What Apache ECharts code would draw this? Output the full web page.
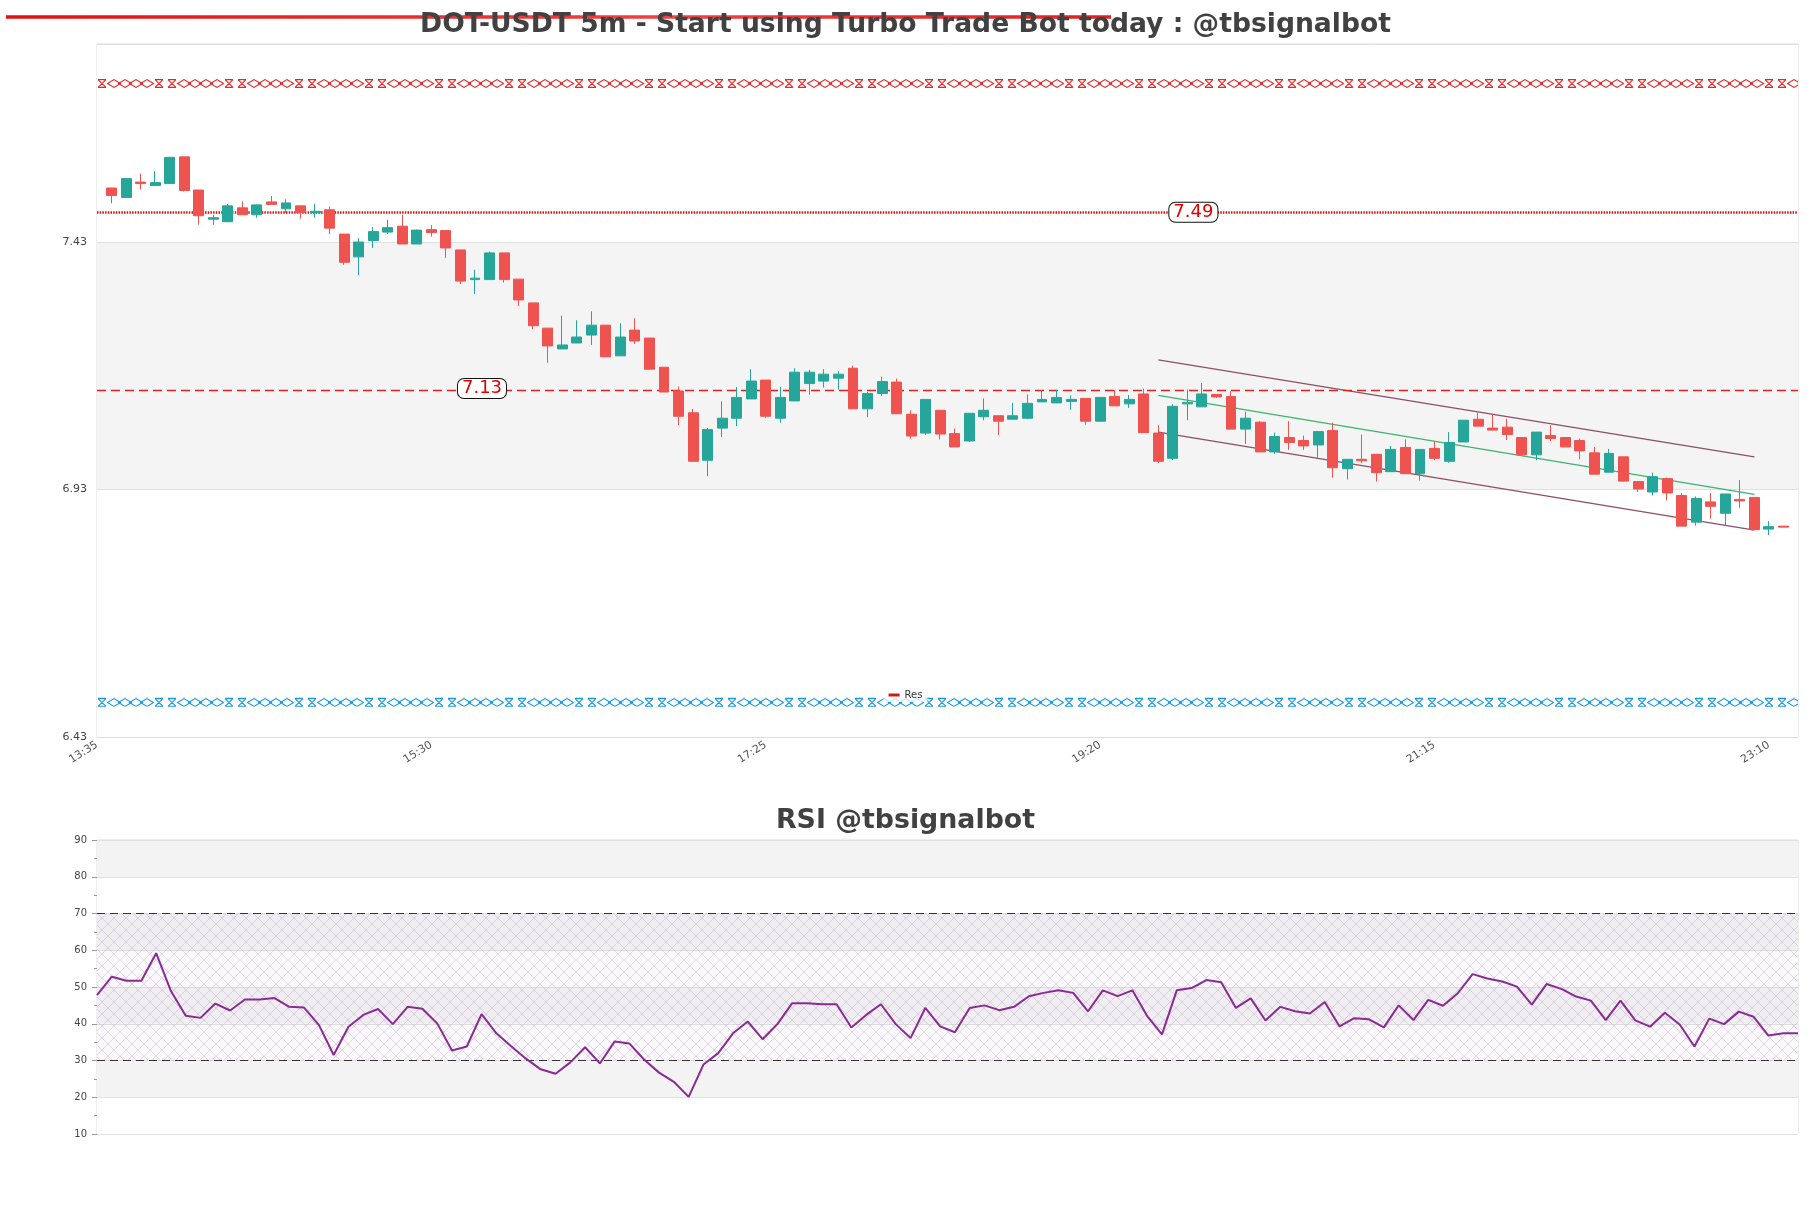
<!DOCTYPE html>
<html><head><meta charset="utf-8">
<script src="https://cdn.jsdelivr.net/npm/echarts@6/dist/echarts.min.js"></script>
<style>html,body{margin:0;padding:0;background:#fff}#c{width:1811px;height:1208px}</style>
</head><body><div id="c"></div>
<script>
// ---- categories (5m candles) ----
const timeLabels = [
 '13:35','13:40','13:45','13:50','13:55',
 '14:00','14:05','14:10','14:15','14:20','14:25','14:30','14:35','14:40','14:45','14:50','14:55',
 '15:00','15:05','15:10','15:15','15:20','15:25','15:30','15:35','15:40','15:45','15:50','15:55',
 '16:00','16:05','16:10','16:15','16:20','16:25','16:30','16:35','16:40','16:45','16:50','16:55',
 '17:00','17:05','17:10','17:15','17:20','17:25','17:30','17:35','17:40','17:45','17:50','17:55',
 '18:00','18:05','18:10','18:15','18:20','18:25','18:30','18:35','18:40','18:45','18:50','18:55',
 '19:00','19:05','19:10','19:15','19:20','19:25','19:30','19:35','19:40','19:45','19:50','19:55',
 '20:00','20:05','20:10','20:15','20:20','20:25','20:30','20:35','20:40','20:45','20:50','20:55',
 '21:00','21:05','21:10','21:15','21:20','21:25','21:30','21:35','21:40','21:45','21:50','21:55',
 '22:00','22:05','22:10','22:15','22:20','22:25','22:30','22:35','22:40','22:45','22:50','22:55',
 '23:00','23:05','23:10','23:15','23:20'
];
// candles occupy categories 13:40 .. 23:15
const openVals = [7.539,7.520,7.551,7.544,7.548,7.602,7.535,7.476,7.471,7.499,7.485,7.511,7.497,7.503,7.489,7.495,7.446,7.400,7.433,7.450,
 7.462,7.426,7.455,7.453,7.414,7.354,7.354,7.408,7.355,7.307,7.256,7.214,7.226,7.242,7.262,7.200,7.252,7.236,7.177,7.129,
 7.085,6.989,7.054,7.074,7.113,7.151,7.074,7.109,7.144,7.149,7.155,7.175,7.093,7.124,7.147,7.082,7.044,7.090,7.043,7.028,
 7.077,7.079,7.072,7.074,7.107,7.105,7.108,7.114,7.068,7.118,7.103,7.123,7.044,6.993,7.103,7.097,7.122,7.118,7.052,7.066,
 7.006,7.035,7.029,7.020,7.049,6.972,6.991,7.001,6.966,7.015,6.962,7.013,6.987,7.026,7.072,7.054,7.056,7.035,7.000,7.039,
 7.035,7.029,7.004,6.965,6.996,6.946,6.925,6.952,6.918,6.864,6.905,6.882,6.910,6.914,6.850,6.856];
const closeVals = [7.524,7.558,7.548,7.550,7.601,7.534,7.483,7.479,7.503,7.485,7.505,7.506,7.509,7.490,7.492,7.458,7.389,7.430,7.451,7.459,
 7.426,7.454,7.449,7.418,7.351,7.357,7.408,7.354,7.313,7.261,7.220,7.222,7.238,7.262,7.198,7.238,7.230,7.173,7.127,7.078,
 6.987,7.051,7.074,7.116,7.149,7.078,7.116,7.167,7.167,7.163,7.163,7.093,7.124,7.148,7.083,7.038,7.112,7.042,7.016,7.084,
 7.090,7.068,7.079,7.104,7.112,7.116,7.112,7.068,7.116,7.099,7.112,7.045,6.987,7.098,7.106,7.123,7.117,7.052,7.074,7.006,
 7.037,7.025,7.018,7.047,6.974,6.991,6.988,6.964,7.011,6.962,7.011,6.993,7.025,7.070,7.058,7.050,7.041,7.000,7.046,7.033,
 7.016,7.008,6.961,7.003,6.947,6.931,6.956,6.923,6.856,6.912,6.896,6.921,6.907,6.849,6.855,6.854];
const lowVals = [7.508,7.519,7.536,7.544,7.547,7.532,7.465,7.465,7.470,7.485,7.479,7.506,7.489,7.477,7.479,7.446,7.384,7.363,7.418,7.446,
 7.426,7.426,7.441,7.398,7.345,7.325,7.354,7.348,7.301,7.254,7.186,7.214,7.226,7.222,7.198,7.200,7.224,7.173,7.127,7.060,
 6.987,6.957,7.036,7.058,7.113,7.075,7.065,7.109,7.121,7.136,7.132,7.093,7.076,7.119,7.083,7.033,7.040,7.031,7.016,7.026,
 7.070,7.040,7.072,7.072,7.107,7.105,7.091,7.061,7.067,7.099,7.095,7.045,6.983,6.989,7.070,7.097,7.115,7.052,7.022,7.006,
 7.002,7.010,7.010,6.993,6.954,6.950,6.983,6.946,6.966,6.962,6.948,6.989,6.984,7.026,7.058,7.050,7.030,7.000,6.989,7.028,
 7.016,6.991,6.961,6.965,6.946,6.925,6.918,6.908,6.856,6.857,6.871,6.856,6.893,6.849,6.838,6.854];
const highVals = [7.540,7.559,7.568,7.573,7.602,7.602,7.535,7.485,7.507,7.512,7.506,7.523,7.516,7.503,7.507,7.502,7.446,7.438,7.460,7.475,
 7.485,7.455,7.464,7.454,7.414,7.374,7.411,7.408,7.355,7.307,7.256,7.281,7.272,7.290,7.262,7.266,7.276,7.236,7.177,7.138,
 7.093,7.054,7.108,7.137,7.173,7.151,7.137,7.175,7.172,7.173,7.169,7.180,7.127,7.158,7.154,7.090,7.112,7.090,7.053,7.084,
 7.114,7.079,7.105,7.122,7.131,7.131,7.120,7.114,7.117,7.131,7.121,7.134,7.060,7.102,7.132,7.145,7.122,7.129,7.087,7.068,
 7.045,7.068,7.039,7.047,7.065,6.991,7.041,7.001,7.018,7.031,7.011,7.026,7.046,7.070,7.085,7.083,7.073,7.035,7.046,7.060,
 7.035,7.033,7.016,7.012,6.996,6.946,6.964,6.954,6.923,6.916,6.923,6.921,6.949,6.914,6.866,6.856];
const rsiValues = [47.8,52.8,51.7,51.7,59.2,48.9,42.2,41.6,45.5,43.6,46.6,46.6,47.0,44.6,44.4,39.7,31.5,39.2,42.4,44.0,
 39.9,44.6,44.1,40.1,32.7,33.8,42.6,37.4,33.9,30.5,27.6,26.4,29.5,33.6,29.2,35.2,34.6,30.2,26.7,24.2,
 20.1,28.9,32.0,37.4,40.6,35.8,39.9,45.6,45.6,45.3,45.3,39.0,42.4,45.3,39.9,36.1,44.3,39.3,37.7,44.3,
 45.0,43.7,44.6,47.5,48.4,49.1,48.4,43.4,49.1,47.5,49.1,42.1,37.1,49.1,49.7,51.9,51.3,44.3,46.9,40.9,
 44.6,43.4,42.8,45.9,39.3,41.5,41.2,39.0,45.0,41.0,46.5,44.9,48.3,53.5,52.3,51.5,50.1,45.2,50.8,49.5,
 47.4,46.3,41.0,46.3,40.9,39.2,43.0,39.8,33.8,41.4,39.9,43.3,41.9,36.8,37.4,37.4];
const resLevels = [7.49, 7.13];
const resLabelAt = ['19:50', '15:45'];
const zoneLevels = [7.75, 6.50];
const rsiLevels = [30, 70];
const channelX = ['19:40', '23:05'];
const channelUpper = [7.192, 6.996];
const channelMid = [7.120, 6.920];
const channelLower = [7.046, 6.848];
const priceAxis = [6.43, 7.83, 0.5];
const rsiAxis = [10, 90, 10];

const FONT = 'DejaVu Sans';
const candleData = [['-','-','-','-']]
  .concat(openVals.map((o, i) => [o, closeVals[i], lowVals[i], highVals[i]]))
  .concat([['-','-','-','-']]);
const rsiCats = timeLabels.slice(1, 1 + rsiValues.length);

const ZH = 9; // zone pattern tile height in px
function zoneTile(color) {
  const W = 70, c = document.createElement('canvas'); c.width = W; c.height = ZH;
  const g = c.getContext('2d'); g.strokeStyle = color; g.lineWidth = 1.1;
  const hour = (x0, x1) => {
    g.beginPath();
    g.moveTo(x0, 0.6); g.lineTo(x1, 0.6); g.moveTo(x0, ZH - 0.6); g.lineTo(x1, ZH - 0.6);
    g.moveTo(x0, 0.6); g.lineTo(x1, ZH - 0.6); g.moveTo(x1, 0.6); g.lineTo(x0, ZH - 0.6);
    g.stroke();
  };
  const dia = (cx) => {
    g.beginPath(); g.moveTo(cx - 6.5, ZH / 2); g.lineTo(cx, 0.6); g.lineTo(cx + 6.5, ZH / 2); g.lineTo(cx, ZH - 0.6); g.closePath(); g.stroke();
  };
  hour(1, 9);
  [17, 28, 39, 50].forEach(dia);
  hour(58, 66);
  return c;
}
function hatchTile() {
  const c = document.createElement('canvas'); c.width = 12; c.height = 12;
  const g = c.getContext('2d');
  g.fillStyle = 'rgba(215,195,230,0.10)'; g.fillRect(0, 0, 12, 12);
  g.strokeStyle = 'rgba(165,140,185,0.42)'; g.lineWidth = 0.8;
  g.beginPath(); g.moveTo(0, 0); g.lineTo(12, 12); g.moveTo(12, 0); g.lineTo(0, 12); g.stroke();
  return c;
}
const redTile = zoneTile('#e02828'), blueTile = zoneTile('#1a9be0'), hatch = hatchTile();

const chart = echarts.init(document.getElementById('c'), null, {width: 1811, height: 1208});

function buildOption(zoneY) {
  const half = 0.0091;
  const zoneBand = (lvl, tile, y) => [{yAxis: lvl - half, itemStyle: {color: {image: tile, repeat: 'repeat', x: 97, y: y}}}, {yAxis: lvl + half}];
  return {
    animation: false,
    backgroundColor: '#fff',
    textStyle: {fontFamily: FONT},
    title: [
      {text: 'DOT-USDT 5m - Start using Turbo Trade Bot today : @tbsignalbot', left: 'center', top: 7,
       textStyle: {fontSize: 26.6, fontWeight: 'bold', color: '#414141', fontFamily: FONT}},
      {text: 'RSI @tbsignalbot', left: 'center', top: 803,
       textStyle: {fontSize: 26.8, fontWeight: 'bold', color: '#414141', fontFamily: FONT}}
    ],
    graphic: [{type: 'line', z: -1, shape: {x1: 6, y1: 17, x2: 1111, y2: 17},
      style: {lineWidth: 3.4, stroke: new echarts.graphic.LinearGradient(0, 0, 1, 0, [
        {offset: 0, color: '#e01010'}, {offset: 0.6, color: '#f04040'}, {offset: 1, color: '#e02020'}])}}],
    legend: {data: ['Res'], left: 'center', top: 688, icon: 'rect', itemWidth: 11, itemHeight: 3,
      backgroundColor: 'rgba(255,255,255,0.75)', padding: [2, 5],
      textStyle: {fontSize: 10, color: '#333', fontFamily: FONT}},
    grid: [
      {left: 97, top: 44, width: 1701, height: 693, show: true, borderColor: '#dcdcdc', borderWidth: 1, backgroundColor: 'transparent', outerBoundsMode: 'none'},
      {left: 97, top: 840, width: 1701, height: 294, show: true, borderColor: '#dcdcdc', borderWidth: 1, backgroundColor: 'transparent', outerBoundsMode: 'none'}
    ],
    xAxis: [
      {type: 'category', gridIndex: 0, data: timeLabels, boundaryGap: false,
       axisLine: {lineStyle: {color: '#dcdcdc'}}, axisTick: {show: false},
       axisLabel: {interval: 22, rotate: 32, fontSize: 11, color: '#555', margin: 7, fontFamily: FONT},
       splitLine: {show: false}},
      {type: 'category', gridIndex: 1, data: rsiCats, boundaryGap: false,
       axisLine: {show: false}, axisTick: {show: false}, axisLabel: {show: false}, splitLine: {show: false}}
    ],
    yAxis: [
      {type: 'value', gridIndex: 0, min: priceAxis[0], max: priceAxis[1], interval: priceAxis[2], scale: true,
       axisLine: {show: false}, axisTick: {show: false},
       axisLabel: {fontSize: 11, color: '#444', margin: 10, showMaxLabel: false, fontFamily: FONT,
         formatter: v => v.toFixed(2)},
       splitLine: {lineStyle: {color: '#e0e0e0'}},
       splitArea: {show: true, areaStyle: {color: ['#ffffff', '#f4f4f4']}}},
      {type: 'value', gridIndex: 1, min: rsiAxis[0], max: rsiAxis[1], interval: rsiAxis[2],
       axisLine: {show: false},
       axisTick: {show: true, length: 5, lineStyle: {color: '#999'}},
       minorTick: {show: true, splitNumber: 2, length: 3, lineStyle: {color: '#999'}},
       axisLabel: {fontSize: 10, color: '#444', margin: 10, fontFamily: FONT},
       splitLine: {lineStyle: {color: '#e0e0e0'}},
       splitArea: {show: true, areaStyle: {color: ['#ffffff', '#f3f3f3']}}}
    ],
    series: [
      {type: 'candlestick', name: 'price', xAxisIndex: 0, yAxisIndex: 0, data: candleData, barWidth: '72%', z: 5,
       itemStyle: {color: '#26a69a', color0: '#ef5350', borderColor: '#26a69a', borderColor0: '#ef5350', borderWidth: 1},
       markArea: {silent: true, data: [zoneBand(zoneLevels[0], redTile, zoneY[0]), zoneBand(zoneLevels[1], blueTile, zoneY[1])]}},
      {type: 'line', name: 'Res', xAxisIndex: 0, yAxisIndex: 0, data: [], color: '#cc1a1a', z: 4,
       markLine: {silent: true, symbol: 'none', label: {show: false},
         data: [
           {yAxis: resLevels[0], lineStyle: {color: '#dd1111', width: 2.5, type: [1.5, 1.2]}},
           {yAxis: resLevels[1], lineStyle: {color: '#dd2222', width: 1.4, type: [9, 5]}}
         ]},
       markPoint: {silent: true, symbol: 'rect', symbolSize: 0,
         label: {show: true, position: 'inside', fontSize: 18, color: '#e00000', fontFamily: FONT,
           backgroundColor: '#fff', borderColor: '#111', borderWidth: 1, borderRadius: 6, padding: [0, 4], lineHeight: 19,
           formatter: p => p.value.toFixed(2)},
         data: [
           {coord: [resLabelAt[0], resLevels[0]], value: resLevels[0], label: {offset: [6, 0]}},
           {coord: [resLabelAt[1], resLevels[1]], value: resLevels[1], label: {offset: [7, -2]}}
         ]}},
      {type: 'line', name: 'chanUp', data: [[channelX[0], channelUpper[0]], [channelX[1], channelUpper[1]]], showSymbol: false, symbol: 'none',
       lineStyle: {color: '#8e4f66', width: 1.3}, z: 3},
      {type: 'line', name: 'chanMid', data: [[channelX[0], channelMid[0]], [channelX[1], channelMid[1]]], showSymbol: false, symbol: 'none',
       lineStyle: {color: '#3cb371', width: 1.3}, z: 3},
      {type: 'line', name: 'chanLow', data: [[channelX[0], channelLower[0]], [channelX[1], channelLower[1]]], showSymbol: false, symbol: 'none',
       lineStyle: {color: '#8e4f66', width: 1.3}, z: 3},
      {type: 'line', name: 'RSI', xAxisIndex: 1, yAxisIndex: 1, data: rsiValues, showSymbol: false, symbol: 'none',
       lineStyle: {color: '#8b2a95', width: 2}, z: 5,
       markLine: {silent: true, symbol: 'none', label: {show: false},
         lineStyle: {color: '#333', width: 1.2, type: [8, 5]},
         data: rsiLevels.map(v => ({yAxis: v}))},
       markArea: {silent: true, itemStyle: {color: {image: hatch, repeat: 'repeat'}},
         data: [[{yAxis: rsiLevels[0]}, {yAxis: rsiLevels[1]}]]}}
    ]
  };
}
chart.setOption(buildOption([0, 0]));
const zy = zoneLevels.map(v => Math.round(chart.convertToPixel({gridIndex: 0}, [0, v + 0.0091])[1]));
chart.setOption(buildOption(zy));
</script></body></html>
